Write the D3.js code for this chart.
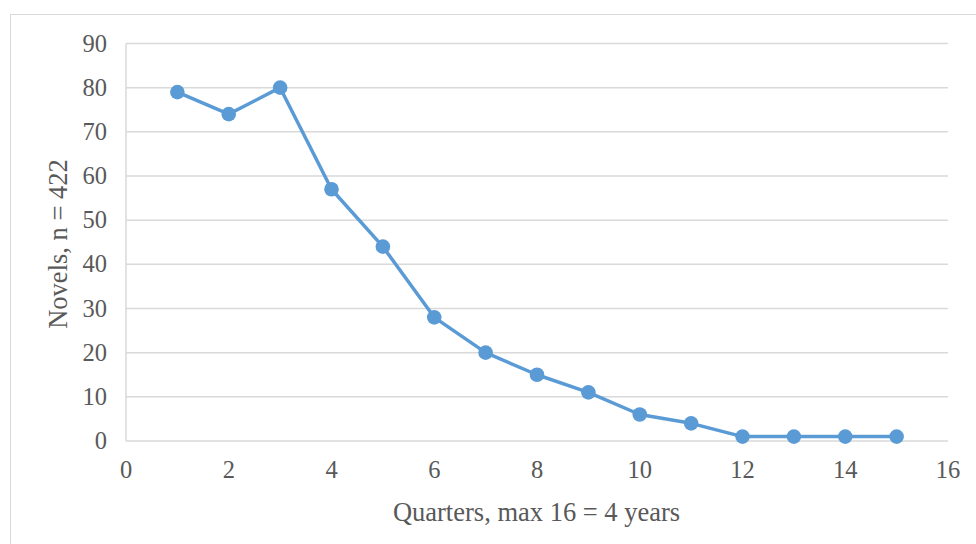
<!DOCTYPE html>
<html><head><meta charset="utf-8">
<script src="https://cdnjs.cloudflare.com/ajax/libs/d3/7.8.5/d3.min.js"></script>
<style>body{margin:0;background:#fff}svg{display:block}</style>
</head><body><svg id="c" width="976" height="544"></svg>
<script>
const quarters = [1,2,3,4,5,6,7,8,9,10,11,12,13,14,15];
const novels = [79,74,80,57,44,28,20,15,11,6,4,1,1,1,1];
const xTicks = [0,2,4,6,8,10,12,14,16];
const yTicks = [0,10,20,30,40,50,60,70,80,90];
const xTitle = "Quarters, max 16 = 4 years";
const yTitle = "Novels, n = 422";

const svg = d3.select("#c");
const font = "'Liberation Serif','Times New Roman',serif";
const m = {l:126, r:948, t:43.5, b:441};
const x = d3.scaleLinear().domain([0,16]).range([m.l,m.r]);
const y = d3.scaleLinear().domain([0,90]).range([m.b,m.t]);

svg.append("rect").attr("x",10.5).attr("y",14.5).attr("width",980).attr("height",560)
  .attr("fill","#fff").attr("stroke","#d9d9d9").attr("stroke-width",1);

svg.append("g").selectAll("line").data(yTicks).join("line")
  .attr("x1",m.l).attr("x2",m.r).attr("y1",d=>y(d)).attr("y2",d=>y(d))
  .attr("stroke","#d9d9d9").attr("stroke-width",1.5);
svg.append("line").attr("x1",m.l).attr("x2",m.l).attr("y1",m.t).attr("y2",m.b)
  .attr("stroke","#d9d9d9").attr("stroke-width",1.5);

svg.append("g").selectAll("text").data(yTicks).join("text")
  .attr("x",107).attr("y",d=>y(d)).attr("dy","0.33em").attr("text-anchor","end")
  .attr("font-family",font).attr("font-size",24.5).attr("fill","#595959").text(d=>d);
svg.append("g").selectAll("text").data(xTicks).join("text")
  .attr("x",d=>x(d)).attr("y",478).attr("text-anchor","middle")
  .attr("font-family",font).attr("font-size",24.5).attr("fill","#595959").text(d=>d);

svg.append("text").attr("x",536.5).attr("y",521).attr("text-anchor","middle")
  .attr("font-family",font).attr("font-size",26.5).attr("fill","#595959").text(xTitle);
svg.append("text").attr("transform",`translate(67,244) rotate(-90)`).attr("text-anchor","middle")
  .attr("font-family",font).attr("font-size",26.5).attr("fill","#595959").text(yTitle);

const pts = quarters.map((q,i)=>[q,novels[i]]);
svg.append("path").datum(pts)
  .attr("d", d3.line().x(d=>x(d[0])).y(d=>y(d[1])))
  .attr("fill","none").attr("stroke","#5b9bd5").attr("stroke-width",3.5).attr("stroke-linejoin","round");
svg.append("g").selectAll("circle").data(pts).join("circle")
  .attr("cx",d=>x(d[0])).attr("cy",d=>y(d[1])).attr("r",7.3).attr("fill","#5b9bd5");
</script></body></html>
